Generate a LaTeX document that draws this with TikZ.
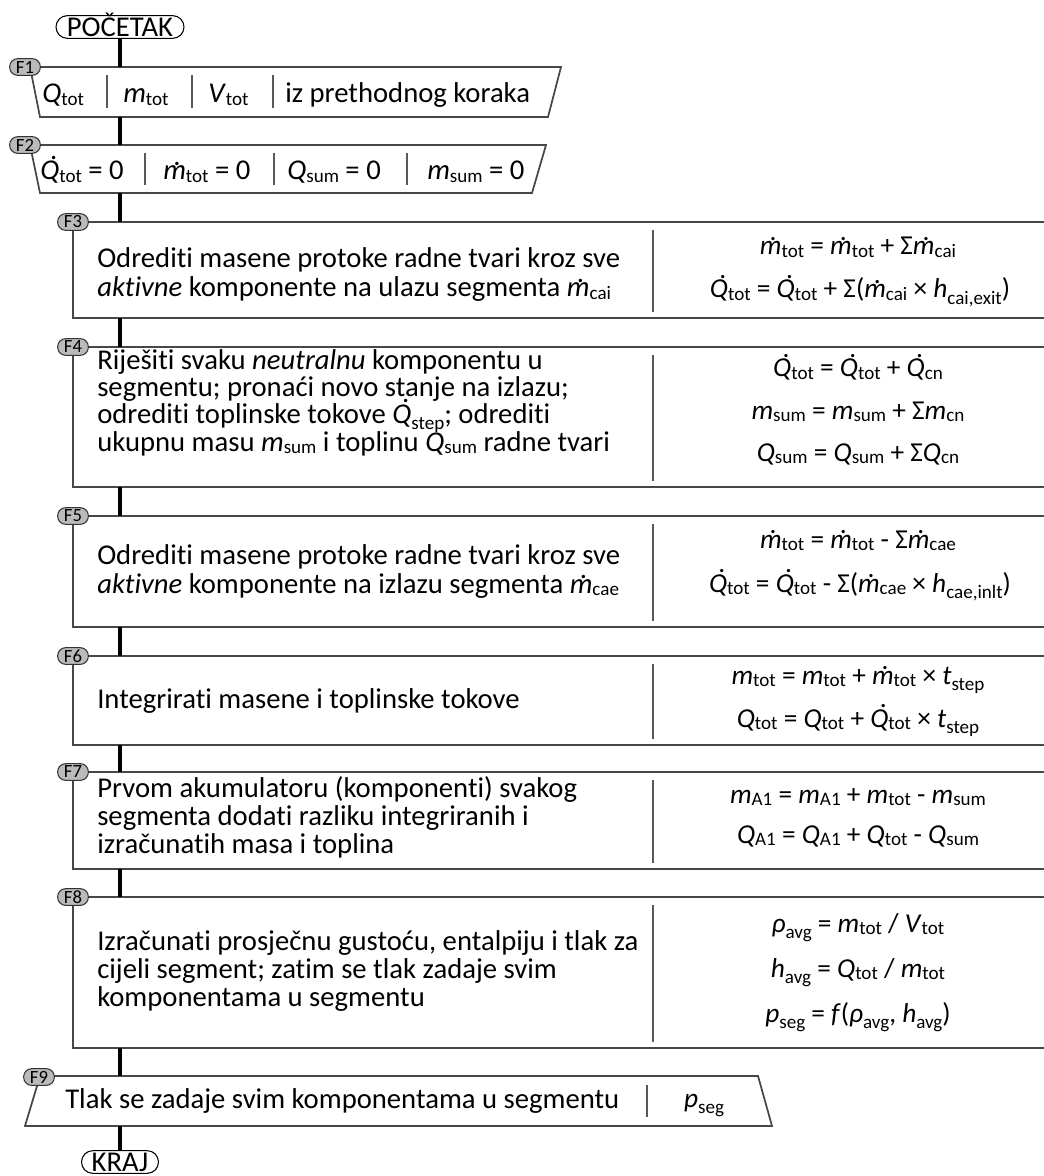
\documentclass[tikz,border=0pt]{standalone}
\usepackage{fontspec}
\setmainfont{Carlito}[Ligatures=NoCommon]
\newcommand\sbs[1]{\raisebox{-2.2pt}{\fontsize{14.3}{15}\selectfont\upshape #1}}
\newcommand\sbl[1]{\raisebox{-5pt}{\fontsize{14.3}{15}\selectfont\upshape #1}}
\newcommand\dotover[3]{\setbox0\hbox{#3}\leavevmode\rlap{\hbox to\wd0{\hss\kern#1\raisebox{#2}{\textup{.}}\hss}}\box0}
\newcommand\dQ{\dotover{0.28em}{0.70em}{\textit{Q}}}
\newcommand\dm{\dotover{0.16em}{0.52em}{\textit{m}}}
\newcommand\vv[1]{\textit{#1}}
\begin{document}
\begin{tikzpicture}[x=0.75pt,y=-0.75pt,
  font=\fontsize{21.5}{26}\selectfont,
  boxline/.style={draw=black!72,line width=1.3pt,line join=miter},
  sepline/.style={draw=black!65,line width=0.8pt},
  conn/.style={draw=black,line width=2.8pt},
  lbl/.style={draw=black!80,fill=black!27,line width=0.8pt,rounded corners=6pt,minimum width=23pt,minimum height=12.5pt,inner sep=0pt,font=\fontsize{14}{14}\selectfont},
  term/.style={draw=black,line width=0.8pt,rounded corners=8.5pt,minimum height=17pt,inner sep=0pt,text height=14pt,text depth=0pt},
  txt/.style={anchor=base west,inner sep=0pt},
  fml/.style={anchor=base,inner sep=0pt,font=\fontsize{20.5}{24}\selectfont}]
\fill[white] (0,0) rectangle (1044,1176);
\useasboundingbox (0,0) rectangle (1044,1176);

% ---------- shapes ----------
\draw[boxline] (561,67) -- (30,67) -- (40,117) -- (548,117) -- cycle;
\draw[boxline] (546,145) -- (30,145) -- (40,193) -- (532,193) -- cycle;
\draw[boxline] (1044,222) -- (73,222) -- (73,318) -- (1044,318);
\draw[boxline] (1044,347) -- (73,347) -- (73,487) -- (1044,487);
\draw[boxline] (1044,516) -- (73,516) -- (73,627) -- (1044,627);
\draw[boxline] (1044,656) -- (73,656) -- (73,745) -- (1044,745);
\draw[boxline] (1044,772) -- (73,772) -- (73,869) -- (1044,869);
\draw[boxline] (1044,897) -- (73,897) -- (73,1048) -- (1044,1048);
\draw[boxline] (40,1076) -- (758,1076) -- (772,1126) -- (25,1126) -- cycle;

% separators
\draw[sepline] (107,75) -- (107,108);
\draw[sepline] (192,75) -- (192,108);
\draw[sepline] (273,75) -- (273,108);
\draw[sepline] (145,153) -- (145,185);
\draw[sepline] (274,153) -- (274,185);
\draw[sepline] (407,153) -- (407,185);
\draw[sepline] (653,230) -- (653,312);
\draw[sepline] (653,355) -- (653,481);
\draw[sepline] (653,524) -- (653,621);
\draw[sepline] (653,664) -- (653,739);
\draw[sepline] (653,780) -- (653,863);
\draw[sepline] (653,905) -- (653,1042);
\draw[sepline] (647,1085) -- (647,1117);

% ---------- terminals ----------
\node[term,minimum width=96pt] (start) at (120,27) {POČETAK};
\node[term,minimum width=57.75pt] (end) at (120,1162) {KRAJ};

% connector anchors
\coordinate (f1t) at (120,67);  \coordinate (f1b) at (120,117);
\coordinate (f2t) at (120,145); \coordinate (f2b) at (120,193);
\coordinate (f3t) at (120,222); \coordinate (f3b) at (120,318);
\coordinate (f4t) at (120,347); \coordinate (f4b) at (120,487);
\coordinate (f5t) at (120,516); \coordinate (f5b) at (120,627);
\coordinate (f6t) at (120,656); \coordinate (f6b) at (120,745);
\coordinate (f7t) at (120,772); \coordinate (f7b) at (120,869);
\coordinate (f8t) at (120,897); \coordinate (f8b) at (120,1048);
\coordinate (f9t) at (120,1076); \coordinate (f9b) at (120,1126);

\draw[conn] (start.south) -- (f1t);
\draw[conn] (f1b) -- (f2t);
\draw[conn] (f2b) -- (f3t);
\draw[conn] (f3b) -- (f4t);
\draw[conn] (f4b) -- (f5t);
\draw[conn] (f5b) -- (f6t);
\draw[conn] (f6b) -- (f7t);
\draw[conn] (f7b) -- (f8t);
\draw[conn] (f8b) -- (f9t);
\draw[conn] (f9b) -- (end.north);

% ---------- labels ----------
\node[lbl] (l1) at (25,67) {F1};
\node[lbl] (l2) at (25,145) {F2};
\node[lbl] (l3) at (73,222) {F3};
\node[lbl] (l4) at (73,347) {F4};
\node[lbl] (l5) at (73,516) {F5};
\node[lbl] (l6) at (73,656) {F6};
\node[lbl] (l7) at (73,772) {F7};
\node[lbl] (l8) at (73,897) {F8};
\node[lbl] (l9) at (39,1077) {F9};

% ---------- F1 ----------
\node[txt] (f1a) at (42,103) {\vv{Q}\sbs{tot}};
\node[txt] (f1c) at (123,103) {\vv{m}\sbs{tot}};
\node[txt] (f1d) at (208,103) {\vv{V}\sbs{tot}};
\node[txt] (f1e) at (285,103) {iz prethodnog koraka};
% ---------- F2 ----------
\node[txt] (f2a) at (40,180) {\dQ\sbs{tot} = 0};
\node[txt] (f2c) at (163,180) {\dm\sbs{tot} = 0};
\node[txt] (f2d) at (287,180) {\vv{Q}\sbs{sum} = 0};
\node[txt] (f2e) at (427,180) {\vv{m}\sbs{sum} = 0};
% ---------- F3 ----------
\node[txt] (f3l1) at (97,268) {Odrediti masene protoke radne tvari kroz sve};
\node[txt] (f3l2) at (97,297) {\textit{aktivne} komponente na ulazu segmenta \dm\sbs{cai}};
\node[fml] (f3r1) at (858,255) {\dm\sbs{tot} = \dm\sbs{tot} + Σ\dm\sbs{cai}};
\node[fml] (f3r2) at (860,298) {\dQ\sbs{tot} = \dQ\sbs{tot} + Σ(\dm\sbs{cai} × \vv{h}\sbl{cai,exit})};
% ---------- F4 ----------
\node[txt] (f4l1) at (97,369) {Riješiti svaku \textit{neutralnu} komponentu u};
\node[txt] (f4l2) at (97,396) {segmentu; pronaći novo stanje na izlazu;};
\node[txt] (f4l3) at (97,423) {odrediti toplinske tokove \dQ\sbl{step}; odrediti};
\node[txt] (f4l4) at (97,451) {ukupnu masu \vv{m}\sbs{sum} i toplinu \vv{Q}\sbs{sum} radne tvari};
\node[fml] (f4r1) at (858,377) {\dQ\sbs{tot} = \dQ\sbs{tot} + \dQ\sbs{cn}};
\node[fml] (f4r2) at (858,419) {\vv{m}\sbs{sum} = \vv{m}\sbs{sum} + Σ\vv{m}\sbs{cn}};
\node[fml] (f4r3) at (858,461) {\vv{Q}\sbs{sum} = \vv{Q}\sbs{sum} + Σ\vv{Q}\sbs{cn}};
% ---------- F5 ----------
\node[txt] (f5l1) at (97,564) {Odrediti masene protoke radne tvari kroz sve};
\node[txt] (f5l2) at (97,593) {\textit{aktivne} komponente na izlazu segmenta \dm\sbs{cae}};
\node[fml] (f5r1) at (858,548) {\dm\sbs{tot} = \dm\sbs{tot} - Σ\dm\sbs{cae}};
\node[fml] (f5r2) at (860,592) {\dQ\sbs{tot} = \dQ\sbs{tot} - Σ(\dm\sbs{cae} × \vv{h}\sbl{cae,inlt})};
% ---------- F6 ----------
\node[txt] (f6l1) at (97,708) {Integrirati masene i toplinske tokove};
\node[fml] (f6r1) at (858,684) {\vv{m}\sbs{tot} = \vv{m}\sbs{tot} + \dm\sbs{tot} × \vv{t}\sbl{step}};
\node[fml] (f6r2) at (858,727) {\vv{Q}\sbs{tot} = \vv{Q}\sbs{tot} + \dQ\sbs{tot} × \vv{t}\sbl{step}};
% ---------- F7 ----------
\node[txt] (f7l1) at (97,797) {Prvom akumulatoru (komponenti) svakog};
\node[txt] (f7l2) at (97,825) {segmenta dodati razliku integriranih i};
\node[txt] (f7l3) at (97,853) {izračunatih masa i toplina};
\node[fml] (f7r1) at (858,803) {\vv{m}\sbs{A1} = \vv{m}\sbs{A1} + \vv{m}\sbs{tot} - \vv{m}\sbs{sum}};
\node[fml] (f7r2) at (858,843) {\vv{Q}\sbs{A1} = \vv{Q}\sbs{A1} + \vv{Q}\sbs{tot} - \vv{Q}\sbs{sum}};
% ---------- F8 ----------
\node[txt] (f8l1) at (97,950) {Izračunati prosječnu gustoću, entalpiju i tlak za};
\node[txt] (f8l2) at (97,978) {cijeli segment; zatim se tlak zadaje svim};
\node[txt] (f8l3) at (97,1006) {komponentama u segmentu};
\node[fml] (f8r1) at (858,932) {\vv{ρ}\sbl{avg} = \vv{m}\sbs{tot} / \vv{V}\sbs{tot}};
\node[fml] (f8r2) at (858,977) {\vv{h}\sbl{avg} = \vv{Q}\sbs{tot} / \vv{m}\sbs{tot}};
\node[fml] (f8r3) at (858,1022) {\vv{p}\sbl{seg} = \vv{f}(\vv{ρ}\sbl{avg}, \vv{h}\sbl{avg})};
% ---------- F9 ----------
\node[txt] (f9l1) at (65,1108) {Tlak se zadaje svim komponentama u segmentu};
\node[fml] (f9r1) at (704,1107) {\vv{p}\sbl{seg}};
\end{tikzpicture}
\end{document}
